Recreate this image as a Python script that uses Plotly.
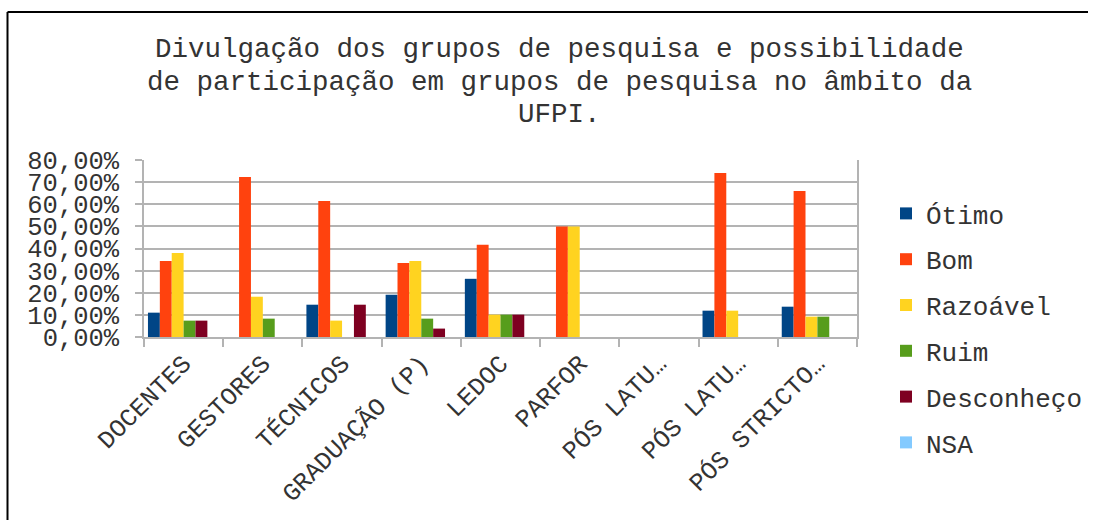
import plotly.graph_objects as go

categories = ["DOCENTES", "GESTORES", "TÉCNICOS", "GRADUAÇÃO (P)", "LEDOC", "PARFOR",
              "PÓS LATU…", "PÓS LATU…\u200b", "PÓS STRICTO…"]
series_names = ["Ótimo", "Bom", "Razoável", "Ruim", "Desconheço", "NSA"]
otimo = [0.110, 0.0, 0.146, 0.191, 0.263, 0.0, 0.0, 0.119, 0.137]
bom = [0.344, 0.723, 0.615, 0.335, 0.417, 0.500, 0.0, 0.741, 0.660]
razoavel = [0.380, 0.182, 0.074, 0.344, 0.101, 0.500, 0.0, 0.119, 0.092]
ruim = [0.074, 0.083, 0.0, 0.083, 0.101, 0.0, 0.0, 0.0, 0.092]
desconheco = [0.074, 0.0, 0.146, 0.038, 0.101, 0.0, 0.0, 0.0, 0.0]
nsa = [0.0, 0.0, 0.0, 0.0, 0.0, 0.0, 0.0, 0.0, 0.0]
colors = ["#004586", "#ff420e", "#ffd320", "#579d1c", "#7e0021", "#83caff"]
title_lines = ["Divulgação dos grupos de pesquisa e possibilidade",
               "de participação em grupos de pesquisa no âmbito da",
               "UFPI."]

FONT = "Liberation Mono, Courier New, monospace"
W, H = 1097, 520
L, R, T, B = 144, 857, 160, 337

fig = go.Figure()
for i, (name, vals) in enumerate(zip(series_names, [otimo, bom, razoavel, ruim, desconheco, nsa])):
    fig.add_trace(go.Bar(x=categories, y=vals, name=name, marker_color=colors[i],
                         marker_line_width=0, legendgroup=name))

pw, ph = R - L, B - T
def px_x(p):
    return (p - L) / pw
def px_y(p):
    return (B - p) / ph

title_y = [50, 82, 114]
annotations = [dict(text=t, xref="paper", yref="paper", x=px_x(559), y=px_y(yy),
                    xanchor="center", yanchor="middle", showarrow=False,
                    font=dict(family=FONT, size=27.5, color="#333333"))
               for t, yy in zip(title_lines, title_y)]

border = dict(color="black", width=2)
shapes = [
    dict(type="line", xref="paper", yref="paper", x0=px_x(7.5), x1=px_x(7.5),
         y0=px_y(600), y1=px_y(12), line=border),
    dict(type="line", xref="paper", yref="paper", x0=px_x(7.5), x1=px_x(1088),
         y0=px_y(12), y1=px_y(12), line=border),
]

fig.update_layout(
    width=W, height=H,
    margin=dict(l=L, r=W - R, t=T, b=H - B, pad=0, autoexpand=False),
    paper_bgcolor="white", plot_bgcolor="white",
    font=dict(family=FONT, size=25, color="#333333"),
    separators=",.",
    barmode="group", bargap=0.1, bargroupgap=0,
    annotations=annotations,
    legend=dict(x=px_x(886), xanchor="left", y=1 - 190 / H, yanchor="top", yref="container",
                font=dict(family=FONT, size=26, color="#333333"), maxheight=480,
                tracegroupgap=9, bgcolor="rgba(0,0,0,0)"),
    showlegend=True,
    hovermode=False,
    shapes=shapes,
)
fig.update_xaxes(type="category", tickson="boundaries", ticks="outside", ticklen=8,
                 tickcolor="#b3b3b3", tickwidth=1.5, showline=True, linecolor="#b3b3b3",
                 linewidth=1.5, showgrid=False, tickangle=-45, automargin=False,
                 tickfont=dict(family=FONT, size=25, color="#333333"))
fig.update_yaxes(range=[0, 0.8], dtick=0.1, tick0=0, tickformat=".2%", ticks="outside",
                 ticklen=7, tickcolor="#b3b3b3", tickwidth=1.5, showline=True,
                 linecolor="#b3b3b3", linewidth=1.5, mirror=True, showgrid=True,
                 gridcolor="#b3b3b3", gridwidth=1.5, zeroline=False, automargin=False,
                 ticklabelstandoff=11,
                 tickfont=dict(family=FONT, size=25.5, color="#333333"))

fig.write_html("out.html", config={"displayModeBar": False},
               post_script="document.body.style.margin='0';document.body.style.overflow='hidden';")
